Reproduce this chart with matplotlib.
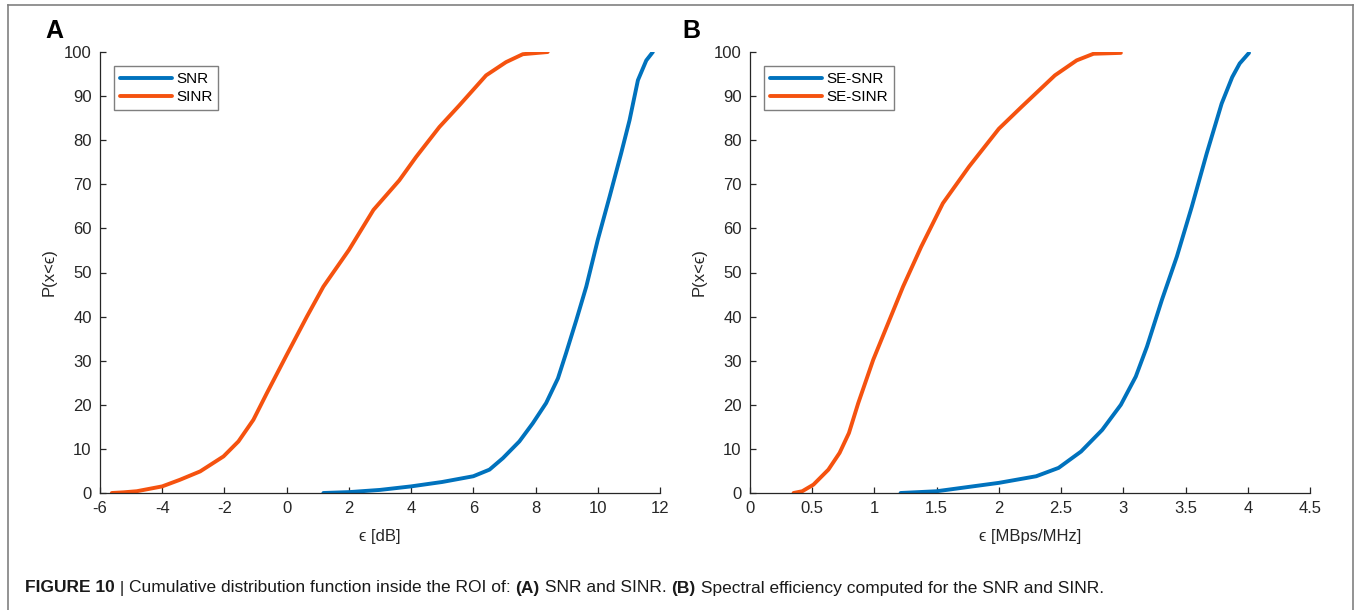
import matplotlib
matplotlib.use("Agg")
import matplotlib.pyplot as plt
from matplotlib.lines import Line2D
from matplotlib.ticker import FormatStrFormatter, MultipleLocator

plt.rcParams["font.family"] = ["Liberation Sans", "DejaVu Sans"]

# ─── data ───────────────────────────────────────────────────────────────────

# panel A: CDF in dB
snr_x = [1.18, 2.0, 3.0, 4.0, 5.0, 6.0, 6.52, 6.95, 7.48, 7.91, 8.34, 8.72,
         8.98, 9.31, 9.63, 10.0, 10.38, 10.75, 11.02, 11.29, 11.56, 11.77]
snr_p = [0, 0.2, 0.7, 1.5, 2.5, 3.8, 5.3, 7.9, 11.7, 15.8, 20.4, 26,
         31.7, 39.2, 46.8, 57.4, 67.2, 77, 84.5, 93.6, 98.1, 100]

sinr_x = [-5.62, -5.25, -4.82, -4.0, -3.43, -2.78, -2.03, -1.55, -1.07, -0.64,
          0.0, 0.65, 1.18, 2.0, 2.79, 3.62, 4.16, 4.91, 5.55, 6.41, 7.05,
          7.59, 8.39]
sinr_p = [0, 0.15, 0.4, 1.5, 3.0, 4.9, 8.3, 11.7, 16.6, 22.6,
          31.3, 40, 46.8, 55.1, 64.2, 70.9, 76.2, 83, 87.9, 94.7, 97.7,
          99.5, 100]

# panel B: spectral efficiency
se_snr_x = [1.21, 1.5, 2.0, 2.3, 2.48, 2.66, 2.83, 2.98, 3.10, 3.19, 3.31,
            3.43, 3.55, 3.67, 3.79, 3.875, 3.935, 4.01]
se_snr_p = [0, 0.4, 2.3, 3.8, 5.7, 9.4, 14.3, 20, 26.4, 33.2, 43.8,
            53.6, 64.9, 77, 88.3, 94.3, 97.4, 99.8]

se_sinr_x = [0.35, 0.42, 0.51, 0.63, 0.72, 0.795, 0.87, 0.99, 1.11, 1.23,
             1.375, 1.55, 1.76, 2.0, 2.18, 2.45, 2.625, 2.76, 2.98]
se_sinr_p = [0, 0.4, 1.9, 5.3, 9.1, 13.6, 20.4, 30.2, 38.5, 46.8,
             55.8, 65.7, 74, 82.6, 87.5, 94.7, 98.1, 99.6, 99.8]

BLUE = "#0072BD"
ORANGE = "#F5520F"
INK = "#262626"
EPS = "\u03f5"
W, H = 1356, 610


def style_axes(ax, xlim, xstep, xlabel):
    ax.set_xlim(*xlim)
    ax.set_ylim(0, 100)
    ax.xaxis.set_major_locator(MultipleLocator(xstep))
    ax.yaxis.set_major_locator(MultipleLocator(10))
    ax.xaxis.set_major_formatter(FormatStrFormatter("%g"))
    for s in ("top", "right"):
        ax.spines[s].set_visible(False)
    for s in ("left", "bottom"):
        ax.spines[s].set_color(INK)
        ax.spines[s].set_linewidth(0.9)
    ax.tick_params(direction="in", length=4, width=0.9, labelsize=12,
                   colors=INK, labelcolor=INK, pad=6)
    ax.set_xlabel(xlabel, fontsize=12, color=INK, labelpad=9)
    ax.set_ylabel(f"P(x<{EPS})", fontsize=12, color=INK, labelpad=5)


def add_legend(ax, labels):
    leg = ax.legend(labels, loc="upper left", bbox_to_anchor=(0.025, 0.968),
                    fontsize=11, handlelength=3.4, handletextpad=0.25,
                    borderpad=0.4, labelspacing=0.25, fancybox=False,
                    framealpha=1, borderaxespad=0)
    leg.get_frame().set_edgecolor("#7f7f7f")
    leg.get_frame().set_linewidth(1.0)


fig = plt.figure(figsize=(W / 100, H / 100), dpi=100)

kw = dict(lw=2.8, solid_capstyle="round", solid_joinstyle="round")

axA = fig.add_axes([100 / W, 1 - 493 / H, 560 / W, 441 / H])
axA.plot(snr_x, snr_p, color=BLUE, **kw)
axA.plot(sinr_x, sinr_p, color=ORANGE, **kw)
style_axes(axA, (-6, 12), 2, f"{EPS} [dB]")
add_legend(axA, ["SNR", "SINR"])

axB = fig.add_axes([750 / W, 1 - 493 / H, 560 / W, 441 / H])
axB.plot(se_snr_x, se_snr_p, color=BLUE, **kw)
axB.plot(se_sinr_x, se_sinr_p, color=ORANGE, **kw)
style_axes(axB, (0, 4.5), 0.5, f"{EPS} [MBps/MHz]")
add_legend(axB, ["SE-SNR", "SE-SINR"])

fig.text(45 / W, 1 - 31 / H, "A", fontsize=18, fontweight="bold", va="center")
fig.text(682 / W, 1 - 31 / H, "B", fontsize=18, fontweight="bold", va="center")

# frame around the figure panel (open at the bottom)
frame = dict(color="#808080", lw=1.2, transform=fig.transFigure)
fig.add_artist(Line2D([8 / W, 1353 / W], [1 - 5 / H, 1 - 5 / H], **frame))
fig.add_artist(Line2D([8 / W, 8 / W], [1 - 5 / H, 0], **frame))
fig.add_artist(Line2D([1353 / W, 1353 / W], [1 - 5 / H, 0], **frame))

# caption, built piece by piece so bold parts sit inline
pieces = [
    ("FIGURE 10", "bold"), (" | ", "normal"),
    ("Cumulative distribution function inside the ROI of: ", "normal"),
    ("(A)", "bold"), (" SNR and SINR. ", "normal"),
    ("(B)", "bold"), (" Spectral efficiency computed for the SNR and SINR.", "normal"),
]
renderer = fig.canvas.get_renderer()
x = 25
for txt, wt in pieces:
    t = fig.text(x / W, 1 - 588 / H, txt, fontsize=12.5, fontweight=wt,
                 color="#1a1a1a", va="center")
    x += t.get_window_extent(renderer).width

fig.savefig("out.png", dpi=100)
